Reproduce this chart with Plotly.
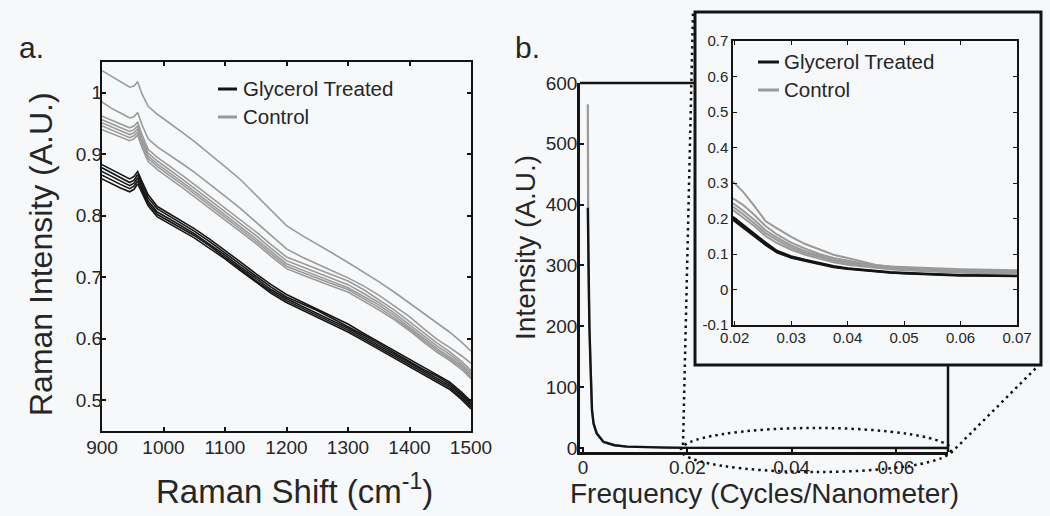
import plotly.graph_objects as go

W, H = 1050, 516
BG = "#f6f8fa"
FONT = "Liberation Sans, Arial, sans-serif"
TXT = "#262626"
BLACK = "#141414"
GRAY = "#9a9a9a"

# ---------------- panel a: Raman spectra ----------------
raman_shift = [900, 915, 930, 945, 952, 958, 965, 975, 990, 1010, 1030, 1050, 1075, 1100,
               1125, 1150, 1175, 1200, 1225, 1250, 1275, 1300, 1325, 1350, 1375, 1400,
               1425, 1445, 1465, 1485, 1500]

glycerol_1 = [0.883, 0.875, 0.867, 0.860, 0.864, 0.872, 0.856, 0.834, 0.815, 0.803, 0.791, 0.779, 0.762, 0.744,
              0.725, 0.706, 0.688, 0.672, 0.660, 0.649, 0.637, 0.624, 0.609, 0.595, 0.580, 0.566, 0.552, 0.542,
              0.530, 0.513, 0.498]
glycerol_2 = [0.878, 0.870, 0.861, 0.854, 0.858, 0.867, 0.851, 0.829, 0.811, 0.799, 0.787, 0.775, 0.758, 0.740,
              0.721, 0.702, 0.684, 0.668, 0.657, 0.646, 0.633, 0.620, 0.606, 0.592, 0.577, 0.563, 0.549, 0.539,
              0.527, 0.510, 0.495]
glycerol_3 = [0.872, 0.864, 0.856, 0.849, 0.853, 0.862, 0.846, 0.824, 0.806, 0.795, 0.783, 0.771, 0.754, 0.736,
              0.717, 0.698, 0.680, 0.665, 0.653, 0.642, 0.630, 0.617, 0.603, 0.589, 0.574, 0.560, 0.546, 0.536,
              0.524, 0.507, 0.492]
glycerol_4 = [0.866, 0.858, 0.851, 0.844, 0.848, 0.857, 0.841, 0.820, 0.802, 0.791, 0.779, 0.768, 0.751, 0.733,
              0.714, 0.695, 0.677, 0.662, 0.650, 0.639, 0.627, 0.614, 0.600, 0.586, 0.571, 0.557, 0.543, 0.533,
              0.521, 0.504, 0.489]
glycerol_5 = [0.860, 0.852, 0.845, 0.839, 0.843, 0.852, 0.837, 0.816, 0.798, 0.787, 0.775, 0.764, 0.747, 0.730,
              0.711, 0.692, 0.674, 0.659, 0.647, 0.636, 0.624, 0.611, 0.597, 0.583, 0.568, 0.554, 0.540, 0.530,
              0.518, 0.501, 0.486]

control_1 = [1.036, 1.027, 1.018, 1.009, 1.011, 1.018, 0.998, 0.978, 0.965, 0.951, 0.936, 0.921, 0.901, 0.880,
             0.859, 0.834, 0.808, 0.784, 0.768, 0.754, 0.739, 0.724, 0.709, 0.693, 0.676, 0.658, 0.640, 0.626,
             0.611, 0.594, 0.580]
control_2 = [0.985, 0.975, 0.967, 0.959, 0.961, 0.968, 0.948, 0.925, 0.912, 0.899, 0.885, 0.871, 0.852, 0.832,
             0.812, 0.790, 0.767, 0.746, 0.733, 0.721, 0.710, 0.699, 0.686, 0.671, 0.654, 0.636, 0.615, 0.599,
             0.586, 0.572, 0.560]
control_3 = [0.962, 0.956, 0.950, 0.943, 0.946, 0.952, 0.932, 0.908, 0.895, 0.881, 0.866, 0.851, 0.832, 0.813,
             0.794, 0.774, 0.753, 0.733, 0.723, 0.713, 0.703, 0.694, 0.680, 0.664, 0.647, 0.628, 0.608, 0.593,
             0.579, 0.563, 0.548]
control_4 = [0.956, 0.950, 0.944, 0.937, 0.940, 0.946, 0.926, 0.902, 0.889, 0.875, 0.860, 0.845, 0.826, 0.807,
             0.788, 0.768, 0.747, 0.727, 0.717, 0.707, 0.697, 0.688, 0.674, 0.659, 0.642, 0.623, 0.603, 0.588,
             0.575, 0.559, 0.544]
control_5 = [0.951, 0.945, 0.939, 0.932, 0.935, 0.941, 0.921, 0.897, 0.884, 0.870, 0.855, 0.840, 0.821, 0.802,
             0.783, 0.763, 0.742, 0.722, 0.712, 0.702, 0.692, 0.683, 0.669, 0.655, 0.638, 0.619, 0.599, 0.584,
             0.571, 0.556, 0.541]
control_6 = [0.946, 0.940, 0.934, 0.927, 0.930, 0.936, 0.916, 0.893, 0.880, 0.866, 0.851, 0.836, 0.817, 0.798,
             0.779, 0.759, 0.738, 0.718, 0.708, 0.698, 0.689, 0.680, 0.666, 0.651, 0.634, 0.616, 0.596, 0.581,
             0.568, 0.553, 0.538]
control_7 = [0.940, 0.934, 0.928, 0.922, 0.925, 0.931, 0.911, 0.888, 0.875, 0.861, 0.846, 0.831, 0.812, 0.794,
             0.775, 0.755, 0.734, 0.714, 0.704, 0.694, 0.685, 0.676, 0.662, 0.647, 0.631, 0.613, 0.593, 0.578,
             0.565, 0.550, 0.535]

glycerol_spectra = [glycerol_1, glycerol_2, glycerol_3, glycerol_4, glycerol_5]
control_spectra = [control_1, control_2, control_3, control_4, control_5, control_6, control_7]

a_xticks = [900, 1000, 1100, 1200, 1300, 1400, 1500]
a_yticks = [0.5, 0.6, 0.7, 0.8, 0.9, 1.0]
a_yticklabels = ["0.5", "0.6", "0.7", "0.8", "0.9", "1"]

# ---------------- panel b: Fourier magnitude ----------------
freq_full = [0.0009, 0.001, 0.0012, 0.0014, 0.0017, 0.002, 0.0026, 0.0039, 0.006, 0.0084, 0.012,
             0.016, 0.02, 0.03, 0.04, 0.05, 0.06, 0.07]
glycerol_fft_full = [395, 287, 200, 140, 62, 40, 24, 10, 4.5, 2.2, 1.2, 0.6, 0.2, 0.09, 0.06, 0.045, 0.04, 0.038]
control_fft_full = [565, 300, 205, 143, 64, 41, 25, 10.5, 4.7, 2.3, 1.3, 0.65, 0.3, 0.15, 0.09, 0.065, 0.057, 0.054]

b_xticks = [0, 0.02, 0.04, 0.06]
b_xticklabels = ["0", "0.02", "0.04", "0.06"]
b_yticks = [0, 100, 200, 300, 400, 500, 600]

freq_zoom = [0.0197, 0.0215, 0.0235, 0.0255, 0.0275, 0.03, 0.0325, 0.035, 0.0375, 0.04, 0.0425,
             0.045, 0.0475, 0.05, 0.0525, 0.055, 0.0575, 0.06, 0.0625, 0.065, 0.0675, 0.07]
glycerol_zoom_1 = [0.205, 0.182, 0.158, 0.132, 0.109, 0.094, 0.084, 0.075, 0.066, 0.060, 0.056,
                   0.052, 0.049, 0.047, 0.045, 0.043, 0.042, 0.041, 0.040, 0.040, 0.039, 0.039]
glycerol_zoom_2 = [0.200, 0.178, 0.155, 0.128, 0.106, 0.091, 0.082, 0.073, 0.064, 0.059, 0.055,
                   0.051, 0.048, 0.046, 0.044, 0.043, 0.041, 0.040, 0.040, 0.039, 0.039, 0.038]
glycerol_zoom_3 = [0.196, 0.174, 0.151, 0.125, 0.104, 0.089, 0.080, 0.071, 0.063, 0.058, 0.054,
                   0.050, 0.047, 0.045, 0.043, 0.042, 0.040, 0.039, 0.039, 0.038, 0.038, 0.037]
control_zoom_1 = [0.304, 0.275, 0.235, 0.192, 0.172, 0.148, 0.128, 0.112, 0.098, 0.089, 0.079,
                  0.069, 0.065, 0.063, 0.061, 0.059, 0.058, 0.057, 0.056, 0.055, 0.055, 0.054]
control_zoom_2 = [0.257, 0.238, 0.210, 0.178, 0.155, 0.132, 0.115, 0.100, 0.089, 0.081, 0.074,
                  0.068, 0.064, 0.060, 0.058, 0.056, 0.054, 0.053, 0.052, 0.052, 0.051, 0.051]
control_zoom_3 = [0.243, 0.222, 0.196, 0.166, 0.146, 0.124, 0.108, 0.095, 0.084, 0.077, 0.071,
                  0.065, 0.061, 0.058, 0.056, 0.054, 0.052, 0.051, 0.050, 0.050, 0.049, 0.049]
control_zoom_4 = [0.233, 0.212, 0.186, 0.158, 0.139, 0.118, 0.103, 0.091, 0.081, 0.074, 0.068,
                  0.063, 0.059, 0.056, 0.054, 0.052, 0.050, 0.049, 0.048, 0.048, 0.047, 0.047]
control_zoom_5 = [0.224, 0.203, 0.178, 0.150, 0.131, 0.112, 0.098, 0.087, 0.077, 0.070, 0.065,
                  0.060, 0.057, 0.054, 0.052, 0.050, 0.048, 0.047, 0.046, 0.046, 0.045, 0.045]
glycerol_zoom = [glycerol_zoom_1, glycerol_zoom_2, glycerol_zoom_3]
control_zoom = [control_zoom_1, control_zoom_2, control_zoom_3, control_zoom_4, control_zoom_5]

inset_xticks = [0.02, 0.03, 0.04, 0.05, 0.06, 0.07]
inset_xticklabels = ["0.02", "0.03", "0.04", "0.05", "0.06", "0.07"]
inset_yticks = [-0.1, 0, 0.1, 0.2, 0.3, 0.4, 0.5, 0.6, 0.7]
inset_yticklabels = ["-0.1", "0", "0.1", "0.2", "0.3", "0.4", "0.5", "0.6", "0.7"]

legend_labels = ["Glycerol Treated", "Control"]


def px(x):
    return x / W


def py(y):
    return 1 - y / H


fig = go.Figure()

# panel a
for s in control_spectra:
    fig.add_trace(go.Scatter(x=raman_shift, y=s, mode="lines", line=dict(color=GRAY, width=1.6),
                             xaxis="x", yaxis="y", showlegend=False, hoverinfo="skip"))
for s in glycerol_spectra:
    fig.add_trace(go.Scatter(x=raman_shift, y=s, mode="lines", line=dict(color=BLACK, width=1.6),
                             xaxis="x", yaxis="y", showlegend=False, hoverinfo="skip"))

# panel b main
fig.add_trace(go.Scatter(x=freq_full, y=control_fft_full, mode="lines", line=dict(color=GRAY, width=2.2),
                         xaxis="x2", yaxis="y2", showlegend=False, hoverinfo="skip"))
fig.add_trace(go.Scatter(x=freq_full, y=glycerol_fft_full, mode="lines", line=dict(color=BLACK, width=2.4),
                         xaxis="x2", yaxis="y2", showlegend=False, hoverinfo="skip"))

# panel b inset
for s in control_zoom:
    fig.add_trace(go.Scatter(x=freq_zoom, y=s, mode="lines", line=dict(color=GRAY, width=2),
                             xaxis="x3", yaxis="y3", showlegend=False, hoverinfo="skip"))
for s in glycerol_zoom:
    fig.add_trace(go.Scatter(x=freq_zoom, y=s, mode="lines", line=dict(color=BLACK, width=2),
                             xaxis="x3", yaxis="y3", showlegend=False, hoverinfo="skip"))

tickfont = dict(family=FONT, size=19, color=TXT)
insetfont = dict(family=FONT, size=15, color=TXT)

common = dict(ticks="inside", ticklen=4, tickcolor=BLACK, showgrid=False, zeroline=False, automargin=False)

fig.update_layout(
    template="none",
    width=W, height=H, autosize=False,
    margin=dict(l=0, r=0, t=0, b=0, pad=0, autoexpand=False),
    paper_bgcolor=BG, plot_bgcolor="rgba(0,0,0,0)",
    font=dict(family=FONT, color=TXT),
    showlegend=False,
    xaxis=dict(domain=[px(102), px(471)], range=[900, 1500], tickvals=a_xticks, tickwidth=1.5,
               showline=True, linewidth=2, linecolor=BLACK, mirror="ticks", ticklabelstandoff=-2,
               tickfont=tickfont, anchor="y", **common),
    yaxis=dict(domain=[py(431), py(62)], range=[0.45, 1.05], tickvals=a_yticks, ticktext=a_yticklabels,
               tickwidth=1.5, showline=True, linewidth=2, linecolor=BLACK, mirror="ticks", ticklabelstandoff=-6,
               tickfont=tickfont, anchor="x", **common),
    xaxis2=dict(domain=[px(580), px(948)], range=[-0.0006, 0.07], tickvals=b_xticks, ticktext=b_xticklabels,
                tickwidth=1.5, showline=True, linewidth=2.5, linecolor=BLACK, mirror=False, ticklabelstandoff=-4,
                tickfont=tickfont, anchor="y2", **common),
    yaxis2=dict(domain=[py(452), py(83)], range=[-6.6, 600], tickvals=b_yticks,
                tickwidth=1.5, showline=True, linewidth=2.5, linecolor=BLACK, mirror=False, ticklabelstandoff=-4,
                tickfont=tickfont, anchor="x2", **common),
    xaxis3=dict(domain=[px(733), px(1017)], range=[0.0197, 0.07], tickvals=inset_xticks,
                ticktext=inset_xticklabels, tickwidth=1.2, ticklabelstandoff=-2,
                showline=True, linewidth=1.5, linecolor=BLACK, mirror="ticks",
                tickfont=insetfont, anchor="y3", **common),
    yaxis3=dict(domain=[py(325), py(41)], range=[-0.1, 0.7], tickvals=inset_yticks,
                ticktext=inset_yticklabels, tickwidth=1.2,
                showline=True, linewidth=1.5, linecolor=BLACK, mirror="ticks",
                tickfont=insetfont, anchor="x3", **common),
)

shapes = []
# inset frame (drawn beneath the inset traces, on top of the main panel background)
shapes.append(dict(type="rect", xref="paper", yref="paper", x0=px(695), x1=px(1041), y0=py(365), y1=py(12),
                   line=dict(color=BLACK, width=3), fillcolor=BG, layer="below"))
# remaining visible edges of the main panel b box
shapes.append(dict(type="line", xref="paper", yref="paper", x0=px(580), x1=px(695), y0=py(83), y1=py(83),
                   line=dict(color=BLACK, width=2.5), layer="above"))
shapes.append(dict(type="line", xref="paper", yref="paper", x0=px(948), x1=px(948), y0=py(452), y1=py(365),
                   line=dict(color=BLACK, width=2.5), layer="above"))
# dotted zoom indicator
DOT = "2.5px,4px"
shapes.append(dict(type="circle", xref="paper", yref="paper", x0=px(681), x1=px(951), y0=py(472), y1=py(428),
                   line=dict(color=BLACK, width=2.5, dash=DOT), layer="above"))
shapes.append(dict(type="line", xref="paper", yref="paper", x0=px(683), x1=px(693), y0=py(445), y1=py(13),
                   line=dict(color=BLACK, width=2.5, dash=DOT), layer="above"))
shapes.append(dict(type="line", xref="paper", yref="paper", x0=px(951), x1=px(1037), y0=py(453), y1=py(367),
                   line=dict(color=BLACK, width=2.5, dash=DOT), layer="above"))
# legend samples
for (lx0, lx1, ly, col) in [(218, 237, 89, BLACK), (218, 237, 117, GRAY),
                            (758, 779, 62, BLACK), (758, 779, 90, GRAY)]:
    shapes.append(dict(type="line", xref="paper", yref="paper", x0=px(lx0), x1=px(lx1), y0=py(ly), y1=py(ly),
                       line=dict(color=col, width=3), layer="above"))
fig.update_layout(shapes=shapes)

ann = []


def add_text(text, x, y, size, xanchor="center", yanchor="middle", angle=0):
    ann.append(dict(text=text, x=px(x), y=py(y), xref="paper", yref="paper", showarrow=False,
                    xanchor=xanchor, yanchor=yanchor, textangle=angle,
                    font=dict(family=FONT, size=size, color=TXT)))


add_text("a.", 17, 48, 30, xanchor="left")
add_text("b.", 513, 48, 30, xanchor="left")
add_text("Raman Intensity (A.U.)", 41, 254, 32, angle=-90)
add_text("Raman Shift (cm<sup>-1</sup>)", 294, 489, 33)
add_text("Intensity (A.U.)", 526, 248, 28, angle=-90)
add_text("Frequency (Cycles/Nanometer)", 764, 493, 28)
add_text(legend_labels[0], 241, 89, 20.5, xanchor="left")
add_text(legend_labels[1], 241, 117, 20.5, xanchor="left")
add_text(legend_labels[0], 782, 62, 20.5, xanchor="left")
add_text(legend_labels[1], 782, 90, 20.5, xanchor="left")
fig.update_layout(annotations=ann)

fig.write_html(
    "out.html",
    config={"responsive": False, "displayModeBar": False},
    post_script="document.body.style.margin='0px';document.body.style.background='" + BG + "';",
)
